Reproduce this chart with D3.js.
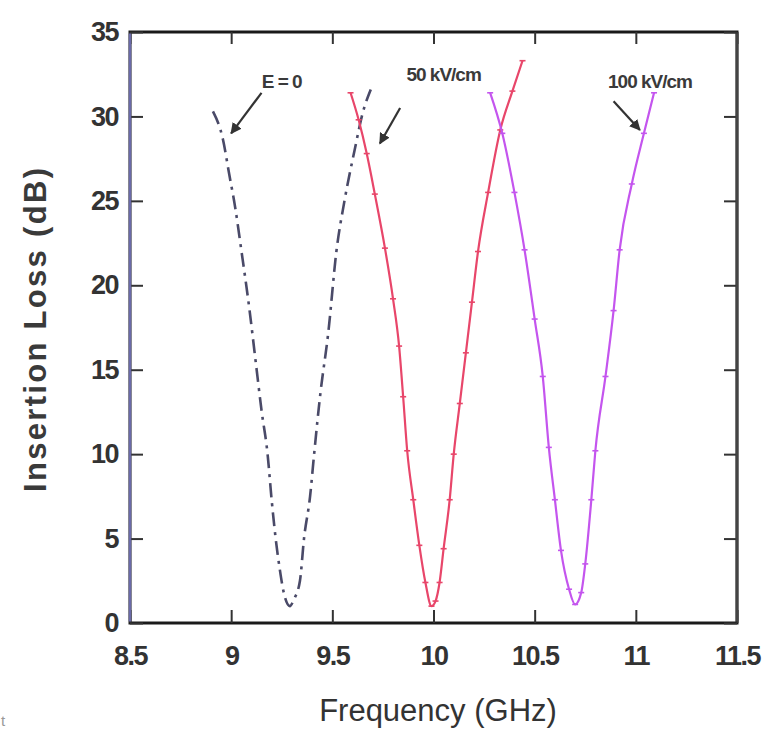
<!DOCTYPE html>
<html>
<head>
<meta charset="utf-8">
<script src="https://cdn.jsdelivr.net/npm/d3@7"></script>
<style>
  body { margin: 0; background: #fff; }
  svg { font-family: "Liberation Sans", Arial, sans-serif; }
</style>
</head>
<body>
<svg width="771" height="740"></svg>
<script>
// insertion loss vs frequency, three bias fields
const xTicks = [8.5, 9, 9.5, 10, 10.5, 11, 11.5];
const yTicks = [0, 5, 10, 15, 20, 25, 30, 35];

// [GHz, dB]
const e0 = [[8.91,30.3],[8.96,28.6],[8.99,26.6],[9.02,24.6],[9.05,22.1],[9.09,18.6],[9.12,15.6],
  [9.15,12.6],[9.18,10.0],[9.20,7.3],[9.22,5.0],[9.24,3.2],[9.26,1.8],[9.29,1.0],[9.31,1.4],
  [9.34,2.5],[9.36,5.0],[9.39,7.5],[9.41,10.0],[9.44,13.5],[9.48,17.2],[9.52,22.0],[9.56,25.0],
  [9.61,28.0],[9.65,30.2],[9.69,31.6]];
const e50 = [[9.59,31.4],[9.63,29.8],[9.67,27.8],[9.71,25.4],[9.76,22.2],[9.80,19.2],[9.83,16.4],
  [9.85,13.4],[9.87,10.2],[9.90,7.3],[9.93,4.6],[9.96,2.4],[9.99,1.0],[10.01,1.3],
  [10.03,2.4],[10.05,4.4],[10.08,7.3],[10.10,10.0],[10.13,13.0],[10.16,16.0],[10.19,19.0],
  [10.22,22.0],[10.27,25.5],[10.33,29.2],[10.39,31.5],[10.44,33.3]];
const e100 = [[10.28,31.4],[10.34,29.0],[10.40,25.5],[10.45,22.1],[10.50,18.0],[10.54,14.6],
  [10.57,10.4],[10.60,7.3],[10.63,4.3],[10.67,2.0],[10.70,1.1],[10.73,1.8],[10.75,3.5],
  [10.78,7.3],[10.80,10.2],[10.85,14.6],[10.89,18.5],[10.92,22.1],[10.98,26.0],[11.04,29.0],
  [11.09,31.4]];

// label text, label position, arrow start, arrow end (data units)
const notes = [
  ["E = 0",     [9.25, 31.7],  [9.15, 31.4],  [9.00, 29.0]],
  ["50 kV/cm",  [10.05, 32.1], [9.835, 30.5], [9.735, 28.4]],
  ["100 kV/cm", [11.07, 31.7], [10.89, 30.9], [11.02, 29.2]]
];

const svg = d3.select("svg"),
    margin = {top: 32, right: 34, bottom: 117, left: 130},
    width = 771 - margin.left - margin.right,
    height = 740 - margin.top - margin.bottom;

const g = svg.append("g").attr("transform", `translate(${margin.left},${margin.top})`);

const x = d3.scaleLinear().domain([8.5, 11.5]).range([0, width]);
const y = d3.scaleLinear().domain([0, 35]).range([height, 0]);

// frame box first, sides recoloured after
g.append("rect")
    .attr("x", 0).attr("y", 0)
    .attr("width", width).attr("height", height)
    .attr("fill", "none")
    .attr("stroke", "#1a1a1a")
    .attr("stroke-width", 3);

/* axes, ticks point inward */
g.append("g").attr("transform", `translate(0,${height})`)
    .call(d3.axisBottom(x).tickValues(xTicks).tickSize(-13).tickPadding(23).tickFormat(d3.format("")));
g.append("g")
    .call(d3.axisLeft(y).tickValues(yTicks).tickSize(-13).tickPadding(12));
g.append("g")
    .call(d3.axisTop(x).tickValues(xTicks).tickSize(-12).tickFormat(""));
g.append("g").attr("transform", `translate(${width},0)`)
    .call(d3.axisRight(y).tickValues(yTicks).tickSize(-13).tickFormat(""));

g.selectAll(".domain").remove();
g.selectAll(".tick line").attr("stroke", "#333").attr("stroke-width", 2);
g.selectAll(".tick text")
    .attr("fill", "#333")
    .style("font-size", "27px")
    .style("font-weight", "bold")
    .style("letter-spacing", "-1.5px");

g.append("line")
    .attr("x1", 0).attr("x2", 0).attr("y1", 1.5).attr("y2", height - 1.5)
    .attr("stroke", "#6a6aa8").attr("stroke-width", 2.4);
g.append("line")
    .attr("x1", width).attr("x2", width).attr("y1", 1.5).attr("y2", height - 1.5)
    .attr("stroke", "#444").attr("stroke-width", 2.6);

/* curves */
const line = d3.line().x(d => x(d[0])).y(d => y(d[1])).curve(d3.curveMonotoneX);

g.append("path").datum(e0)
    .attr("d", line)
    .attr("fill", "none")
    .attr("stroke", "#4a4a68")
    .attr("stroke-width", 2.6)
    .attr("stroke-dasharray", "14,6,3,6");

[[e50, "#e8466a"], [e100, "#c455ee"]].forEach(([data, col]) => {
    g.append("path").datum(data)
        .attr("d", line)
        .attr("fill", "none")
        .attr("stroke", col)
        .attr("stroke-width", 2.2);
    g.selectAll(null).data(data).enter().append("path")
        .attr("d", d => `M${x(d[0]) - 3},${y(d[1])}h6`)
        .attr("stroke", col).attr("stroke-width", 1.6);
});

/* annotations */
svg.append("defs").append("marker")
    .attr("id", "head")
    .attr("viewBox", "0 0 10 10")
    .attr("refX", 9).attr("refY", 5)
    .attr("markerWidth", 5).attr("markerHeight", 5)
    .attr("orient", "auto")
    .append("path").attr("d", "M0,0L10,5L0,10z").attr("fill", "#333");

notes.forEach(([txt, pos, from, to]) => {
    g.append("text")
        .attr("x", x(pos[0])).attr("y", y(pos[1]))
        .attr("text-anchor", "middle")
        .attr("fill", "#3a3a3a")
        .style("font-size", "19px")
        .style("font-weight", "bold")
        .style("letter-spacing", "-1px")
        .text(txt);
    g.append("path")
        .attr("d", `M${x(from[0])},${y(from[1])}L${x(to[0])},${y(to[1])}`)
        .attr("stroke", "#333").attr("stroke-width", 2.2)
        .attr("marker-end", "url(#head)");
});

/* titles */
svg.append("text")
    .attr("x", 438).attr("y", 721)
    .attr("text-anchor", "middle")
    .attr("fill", "#333")
    .style("font-size", "31px")
    .text("Frequency (GHz)");

svg.append("text")
    .attr("transform", "translate(46,330) rotate(-90)")
    .attr("text-anchor", "middle")
    .attr("fill", "#3a3a3a")
    .style("font-size", "31px")
    .style("font-weight", "bold")
    .attr("textLength", 324)
    .text("Insertion Loss (dB)");

svg.append("text")
    .attr("x", 1).attr("y", 726)
    .attr("fill", "#999")
    .style("font-size", "15px")
    .text("t");
</script>
</body>
</html>
